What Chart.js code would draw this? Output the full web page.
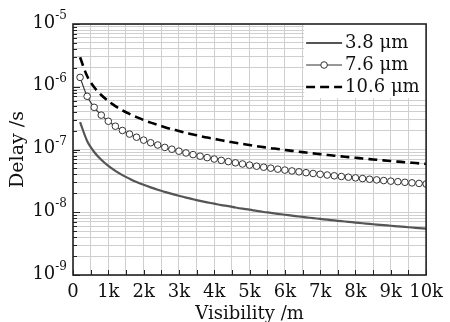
<!DOCTYPE html>
<html>
<head>
<meta charset="utf-8">
<script src="https://cdn.jsdelivr.net/npm/chart.js@4"></script>
<style>
  html, body { margin: 0; padding: 0; background: #fff; }
  #wrap { width: 450px; height: 322px; }
</style>
</head>
<body>
<div id="wrap"><canvas id="chart"></canvas></div>
<script>
const visibility = [
  200, 400, 600, 800, 1000, 1200, 1400, 1600, 1800, 2000,
  2200, 2400, 2600, 2800, 3000, 3200, 3400, 3600, 3800, 4000,
  4200, 4400, 4600, 4800, 5000, 5200, 5400, 5600, 5800, 6000,
  6200, 6400, 6600, 6800, 7000, 7200, 7400, 7600, 7800, 8000,
  8200, 8400, 8600, 8800, 9000, 9200, 9400, 9600, 9800, 10000,
];

const delay38 = [
  2.74e-7, 1.37e-7, 9.13e-8, 6.85e-8, 5.48e-8, 4.57e-8, 3.91e-8, 3.43e-8, 3.04e-8, 2.74e-8,
  2.49e-8, 2.28e-8, 2.11e-8, 1.96e-8, 1.83e-8, 1.71e-8, 1.61e-8, 1.52e-8, 1.44e-8, 1.37e-8,
  1.30e-8, 1.25e-8, 1.19e-8, 1.14e-8, 1.10e-8, 1.05e-8, 1.01e-8, 9.79e-9, 9.45e-9, 9.13e-9,
  8.84e-9, 8.56e-9, 8.30e-9, 8.06e-9, 7.83e-9, 7.61e-9, 7.41e-9, 7.21e-9, 7.03e-9, 6.85e-9,
  6.68e-9, 6.52e-9, 6.37e-9, 6.23e-9, 6.09e-9, 5.96e-9, 5.83e-9, 5.71e-9, 5.59e-9, 5.48e-9,
];

const delay76 = [
  1.41e-6, 7.05e-7, 4.70e-7, 3.53e-7, 2.82e-7, 2.35e-7, 2.01e-7, 1.76e-7, 1.57e-7, 1.41e-7,
  1.28e-7, 1.18e-7, 1.08e-7, 1.01e-7, 9.40e-8, 8.81e-8, 8.29e-8, 7.83e-8, 7.42e-8, 7.05e-8,
  6.71e-8, 6.41e-8, 6.13e-8, 5.88e-8, 5.64e-8, 5.42e-8, 5.22e-8, 5.04e-8, 4.86e-8, 4.70e-8,
  4.55e-8, 4.41e-8, 4.27e-8, 4.15e-8, 4.03e-8, 3.92e-8, 3.81e-8, 3.71e-8, 3.62e-8, 3.53e-8,
  3.44e-8, 3.36e-8, 3.28e-8, 3.20e-8, 3.13e-8, 3.07e-8, 3.00e-8, 2.94e-8, 2.88e-8, 2.82e-8,
];

const delay106 = [
  2.95e-6, 1.48e-6, 9.83e-7, 7.38e-7, 5.90e-7, 4.92e-7, 4.21e-7, 3.69e-7, 3.28e-7, 2.95e-7,
  2.68e-7, 2.46e-7, 2.27e-7, 2.11e-7, 1.97e-7, 1.84e-7, 1.74e-7, 1.64e-7, 1.55e-7, 1.48e-7,
  1.40e-7, 1.34e-7, 1.28e-7, 1.23e-7, 1.18e-7, 1.13e-7, 1.09e-7, 1.05e-7, 1.02e-7, 9.83e-8,
  9.52e-8, 9.22e-8, 8.94e-8, 8.68e-8, 8.43e-8, 8.19e-8, 7.97e-8, 7.76e-8, 7.56e-8, 7.38e-8,
  7.20e-8, 7.02e-8, 6.86e-8, 6.70e-8, 6.56e-8, 6.41e-8, 6.28e-8, 6.15e-8, 6.02e-8, 5.90e-8,
];

const seriesLabels = ["3.8 μm", "7.6 μm", "10.6 μm"];
const xTickValues = [0, 1000, 2000, 3000, 4000, 5000, 6000, 7000, 8000, 9000, 10000];
const xTickLabels = ["0", "1k", "2k", "3k", "4k", "5k", "6k", "7k", "8k", "9k", "10k"];
const yDecades = [1e-9, 1e-8, 1e-7, 1e-6, 1e-5];
const yTickBase = "10";
const yTickExponents = ["-9", "-8", "-7", "-6", "-5"];

const FONT = '"DejaVu Serif", "Liberation Serif", serif';
const GRID = "#cfcfcf";
const AXIS = "#222222";
const TEXT = "#111111";

function toPoints(values) {
  return values.map((v, i) => ({ x: visibility[i], y: v }));
}

// power-of-ten labels with a raised exponent, right-aligned against the y axis
const powerLabelsPlugin = {
  id: "powerLabels",
  afterDraw(chart) {
    const { ctx, chartArea: a, scales } = chart;
    ctx.save();
    ctx.fillStyle = TEXT;
    ctx.textAlign = "right";
    ctx.textBaseline = "middle";
    yDecades.forEach((d, i) => {
      const y = scales.y.getPixelForValue(d) - 1;
      const right = a.left - 6;
      ctx.font = `12px ${FONT}`;
      const expWidth = ctx.measureText(yTickExponents[i]).width;
      ctx.fillText(yTickExponents[i], right, y - 7);
      ctx.font = `18px ${FONT}`;
      ctx.fillText(yTickBase, right - expWidth, y);
    });
    ctx.restore();
  },
};

// inward tick marks plus the closed frame around the plot
const frameTicksPlugin = {
  id: "frameTicks",
  afterDraw(chart) {
    const { ctx, chartArea: a, scales } = chart;
    ctx.save();
    ctx.strokeStyle = AXIS;
    ctx.lineWidth = 1;
    scales.y.ticks.forEach((t) => {
      const y = Math.round(scales.y.getPixelForValue(t.value)) + 0.5;
      const len = t.decade ? 7 : 4;
      ctx.beginPath();
      ctx.moveTo(a.left, y);
      ctx.lineTo(a.left + len, y);
      ctx.stroke();
    });
    scales.x.ticks.forEach((t) => {
      const x = Math.round(scales.x.getPixelForValue(t.value)) + 0.5;
      ctx.beginPath();
      ctx.moveTo(x, a.bottom);
      ctx.lineTo(x, a.bottom - 5);
      ctx.stroke();
    });
    ctx.lineWidth = 1.6;
    ctx.strokeRect(a.left, a.top, a.right - a.left, a.bottom - a.top);
    ctx.restore();
  },
};

// legend boxed into the top right corner of the plot
const cornerLegendPlugin = {
  id: "cornerLegend",
  afterDatasetsDraw(chart) {
    const { ctx, chartArea: a } = chart;
    const boxLeft = a.right - 122;
    const lineStart = boxLeft + 2;
    const lineEnd = boxLeft + 38;
    const rows = [a.top + 19, a.top + 41, a.top + 63];
    ctx.save();
    ctx.fillStyle = "#ffffff";
    ctx.fillRect(boxLeft, a.top, a.right - boxLeft, 74);

    chart.data.datasets.forEach((ds, i) => {
      const y = rows[i];
      ctx.strokeStyle = ds.borderColor;
      ctx.lineWidth = ds.borderWidth;
      ctx.setLineDash(ds.borderDash || []);
      ctx.beginPath();
      ctx.moveTo(lineStart, y);
      ctx.lineTo(lineEnd, y);
      ctx.stroke();
      ctx.setLineDash([]);
      if (ds.pointRadius > 0) {
        ctx.beginPath();
        ctx.arc((lineStart + lineEnd) / 2, y, ds.pointRadius, 0, Math.PI * 2);
        ctx.fillStyle = ds.pointBackgroundColor;
        ctx.fill();
        ctx.lineWidth = ds.pointBorderWidth;
        ctx.strokeStyle = ds.pointBorderColor;
        ctx.stroke();
      }
      ctx.fillStyle = TEXT;
      ctx.font = `18px ${FONT}`;
      ctx.textAlign = "left";
      ctx.textBaseline = "middle";
      ctx.fillText(ds.label, lineEnd + 3, y);
    });
    ctx.restore();
  },
};

new Chart(document.getElementById("chart"), {
  type: "line",
  plugins: [cornerLegendPlugin, frameTicksPlugin, powerLabelsPlugin],
  data: {
    datasets: [
      {
        label: seriesLabels[0],
        data: toPoints(delay38),
        borderColor: "#555555",
        borderWidth: 2.2,
        pointRadius: 0,
        tension: 0.3,
      },
      {
        label: seriesLabels[1],
        data: toPoints(delay76),
        borderColor: "#333333",
        borderWidth: 1.2,
        pointRadius: 3.3,
        pointBorderWidth: 1,
        pointBorderColor: "#333333",
        pointBackgroundColor: "#ffffff",
        tension: 0.3,
      },
      {
        label: seriesLabels[2],
        data: toPoints(delay106),
        borderColor: "#000000",
        borderWidth: 2.6,
        borderDash: [9, 5],
        pointRadius: 0,
        tension: 0.3,
      },
    ],
  },
  options: {
    responsive: true,
    maintainAspectRatio: false,
    animation: false,
    devicePixelRatio: 1,
    layout: {
      padding: { top: 24, right: 21, bottom: 0, left: 0 },
    },
    plugins: {
      legend: { display: false },
      tooltip: { enabled: false },
    },
    scales: {
      x: {
        type: "linear",
        min: 0,
        max: 10000,
        afterBuildTicks(scale) {
          const ticks = [];
          for (let v = 0; v <= 10000; v += 500) {
            ticks.push({ value: v });
          }
          scale.ticks = ticks;
        },
        afterFit(scale) {
          scale.height = 47;
        },
        grid: { color: GRID, lineWidth: 1, drawTicks: false },
        border: { display: false },
        ticks: {
          autoSkip: false,
          maxRotation: 0,
          padding: 7,
          color: TEXT,
          font: { family: FONT, size: 18 },
          callback(value) {
            const idx = xTickValues.indexOf(value);
            return idx >= 0 ? xTickLabels[idx] : "";
          },
        },
        title: {
          display: true,
          text: "Visibility /m",
          color: TEXT,
          font: { family: FONT, size: 18 },
          padding: { top: 0, bottom: -3 },
        },
      },
      y: {
        type: "logarithmic",
        min: 1e-9,
        max: 1e-5,
        afterBuildTicks(scale) {
          const ticks = [];
          yDecades.forEach((d, i) => {
            ticks.push({ value: d, decade: true });
            if (i < yDecades.length - 1) {
              for (let m = 2; m <= 9; m++) {
                ticks.push({ value: m * d, decade: false });
              }
            }
          });
          scale.ticks = ticks;
        },
        afterFit(scale) {
          scale.width = 73;
        },
        grid: { color: GRID, lineWidth: 1, drawTicks: false },
        border: { display: false },
        ticks: { display: false },
        title: {
          display: true,
          text: "Delay /s",
          color: TEXT,
          font: { family: FONT, size: 19 },
          padding: { top: 7, bottom: 0 },
        },
      },
    },
  },
});
</script>
</body>
</html>
